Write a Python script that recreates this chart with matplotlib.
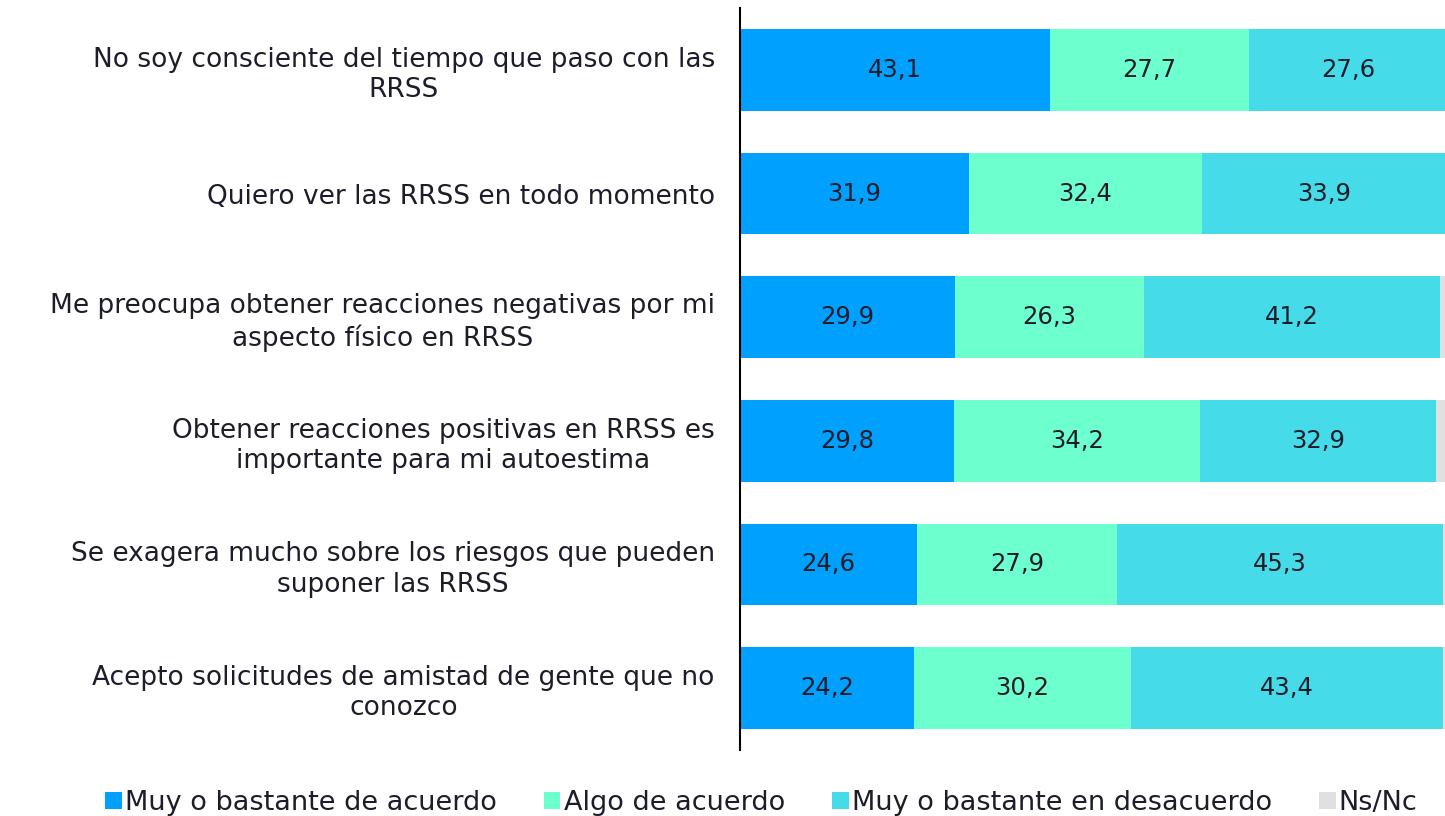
import matplotlib.pyplot as plt

labels = [
    "No soy consciente del tiempo que paso con las\nRRSS",
    "Quiero ver las RRSS en todo momento",
    "Me preocupa obtener reacciones negativas por mi\naspecto físico en RRSS",
    "Obtener reacciones positivas en RRSS es\nimportante para mi autoestima",
    "Se exagera mucho sobre los riesgos que pueden\nsuponer las RRSS",
    "Acepto solicitudes de amistad de gente que no\nconozco",
]
muy_acuerdo = [43.1, 31.9, 29.9, 29.8, 24.6, 24.2]
algo_acuerdo = [27.7, 32.4, 26.3, 34.2, 27.9, 30.2]
desacuerdo = [27.6, 33.9, 41.2, 32.9, 45.3, 43.4]
nsnc = [1.6, 1.8, 2.6, 3.1, 2.2, 2.2]

series = [
    ("Muy o bastante de acuerdo", muy_acuerdo, "#00a0ff"),
    ("Algo de acuerdo", algo_acuerdo, "#6effcf"),
    ("Muy o bastante en desacuerdo", desacuerdo, "#45dbe8"),
    ("Ns/Nc", nsnc, "#e0e0e0"),
]

plt.rcParams["font.family"] = ["DejaVu Sans"]
text_col = "#1c1c2a"

fig = plt.figure(figsize=(14.45, 8.16), dpi=100)
ax = fig.add_axes([0.512, 0.081, 0.488, 0.909])

y = list(range(len(labels)))
left = [0.0] * len(labels)
for name, vals, col in series:
    ax.barh(y, vals, left=left, height=0.66, color=col, label=name)
    if name != "Ns/Nc":
        for i, v in enumerate(vals):
            ax.text(left[i] + v / 2, i, f"{v:.1f}".replace(".", ","),
                    ha="center", va="center", fontsize=17.5, color=text_col)
    left = [l + v for l, v in zip(left, vals)]

ax.set_xlim(0, 98.1)
ax.set_ylim(5.5, -0.5)
ax.set_yticks(y)
ax.set_yticklabels(labels, fontsize=19, color=text_col, ha="right",
                   multialignment="center", linespacing=1.22)
ax.tick_params(axis="y", length=0, pad=18)
ax.set_xticks([])
for s in ["top", "right", "bottom"]:
    ax.spines[s].set_visible(False)
ax.spines["left"].set_linewidth(1.5)

fig.legend(loc="lower center", bbox_to_anchor=(0.527, -0.03), ncol=4,
           frameon=False, fontsize=19.5, handlelength=0.6, handleheight=0.6,
           handletextpad=0.12, columnspacing=1.75, labelcolor=text_col)

fig.savefig("out.png", dpi=100)
